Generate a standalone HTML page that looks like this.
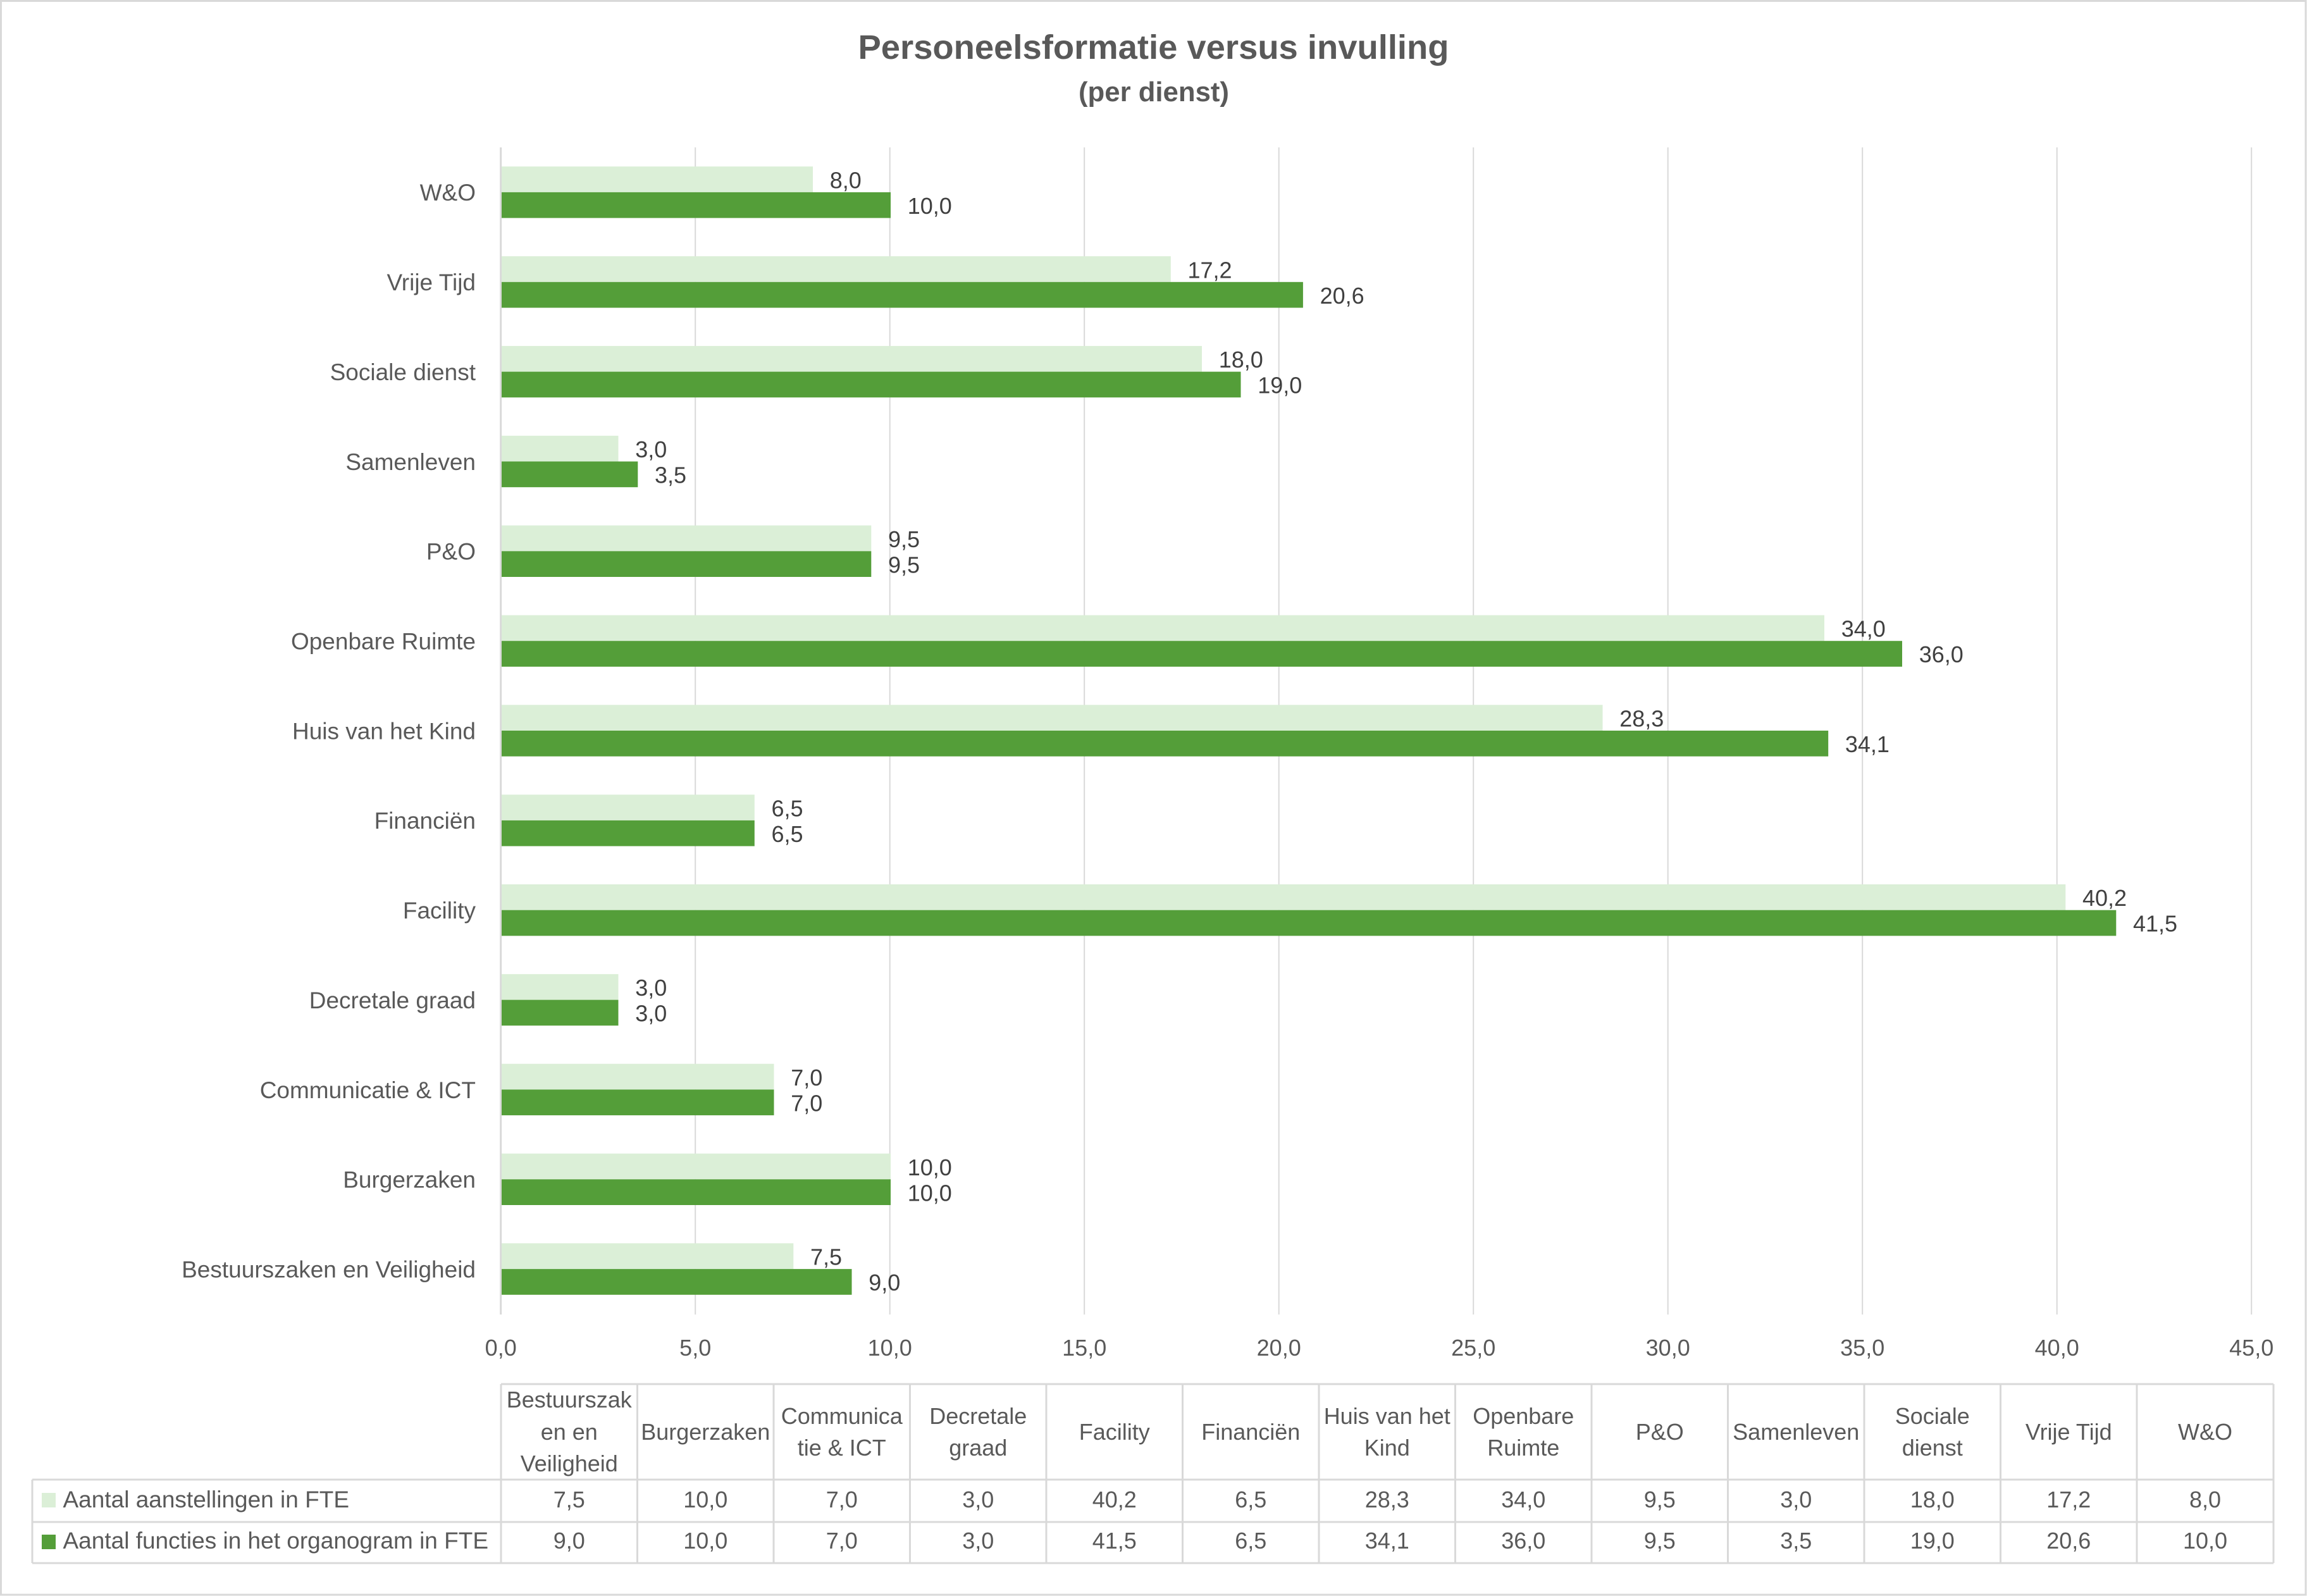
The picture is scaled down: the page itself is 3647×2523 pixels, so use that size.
<!DOCTYPE html>
<html>
<head>
<meta charset="utf-8">
<style>
html,body{margin:0;padding:0;background:#fff;}
svg{display:block;}
text{font-family:"Liberation Sans",Arial,sans-serif;}
</style>
</head>
<body>
<svg xmlns="http://www.w3.org/2000/svg" width="3647" height="2523" viewBox="0 0 3647 2523">
<rect x="0" y="0" width="3647" height="2523" fill="#ffffff"/>
<rect x="1.5" y="1.5" width="3643.5" height="2519.5" fill="none" stroke="#d9d9d9" stroke-width="3"/>

<!-- Title -->
<text x="1823.5" y="93" text-anchor="middle" font-size="54" font-weight="bold" fill="#595959" textLength="934" lengthAdjust="spacingAndGlyphs">Personeelsformatie versus invulling</text>
<text x="1824" y="160" text-anchor="middle" font-size="43.5" font-weight="bold" fill="#595959" textLength="238" lengthAdjust="spacingAndGlyphs">(per dienst)</text>

<!-- Gridlines -->
<g stroke="#d9d9d9" stroke-width="2">
<line x1="1099.2" y1="233" x2="1099.2" y2="2078"/>
<line x1="1406.7" y1="233" x2="1406.7" y2="2078"/>
<line x1="1714.2" y1="233" x2="1714.2" y2="2078"/>
<line x1="2021.7" y1="233" x2="2021.7" y2="2078"/>
<line x1="2329.2" y1="233" x2="2329.2" y2="2078"/>
<line x1="2636.7" y1="233" x2="2636.7" y2="2078"/>
<line x1="2944.2" y1="233" x2="2944.2" y2="2078"/>
<line x1="3251.7" y1="233" x2="3251.7" y2="2078"/>
<line x1="3559.2" y1="233" x2="3559.2" y2="2078"/>
</g>
<line x1="791.7" y1="233" x2="791.7" y2="2078" stroke="#d9d9d9" stroke-width="3"/>

<!-- Bars -->
<g>
<rect x="793" y="263.2" width="492.0" height="40.7" fill="#dbefd7"/>
<rect x="793" y="303.9" width="615.0" height="40.7" fill="#549e39"/>
<rect x="793" y="405.1" width="1057.8" height="40.7" fill="#dbefd7"/>
<rect x="793" y="445.8" width="1266.9" height="40.7" fill="#549e39"/>
<rect x="793" y="546.9" width="1107.0" height="40.7" fill="#dbefd7"/>
<rect x="793" y="587.6" width="1168.5" height="40.7" fill="#549e39"/>
<rect x="793" y="688.8" width="184.5" height="40.7" fill="#dbefd7"/>
<rect x="793" y="729.5" width="215.3" height="40.7" fill="#549e39"/>
<rect x="793" y="830.6" width="584.3" height="40.7" fill="#dbefd7"/>
<rect x="793" y="871.3" width="584.3" height="40.7" fill="#549e39"/>
<rect x="793" y="972.5" width="2091.0" height="40.7" fill="#dbefd7"/>
<rect x="793" y="1013.2" width="2214.0" height="40.7" fill="#549e39"/>
<rect x="793" y="1114.3" width="1740.5" height="40.7" fill="#dbefd7"/>
<rect x="793" y="1155.0" width="2097.2" height="40.7" fill="#549e39"/>
<rect x="793" y="1256.2" width="399.8" height="40.7" fill="#dbefd7"/>
<rect x="793" y="1296.9" width="399.8" height="40.7" fill="#549e39"/>
<rect x="793" y="1398.0" width="2472.3" height="40.7" fill="#dbefd7"/>
<rect x="793" y="1438.7" width="2552.3" height="40.7" fill="#549e39"/>
<rect x="793" y="1539.9" width="184.5" height="40.7" fill="#dbefd7"/>
<rect x="793" y="1580.6" width="184.5" height="40.7" fill="#549e39"/>
<rect x="793" y="1681.7" width="430.5" height="40.7" fill="#dbefd7"/>
<rect x="793" y="1722.4" width="430.5" height="40.7" fill="#549e39"/>
<rect x="793" y="1823.6" width="615.0" height="40.7" fill="#dbefd7"/>
<rect x="793" y="1864.3" width="615.0" height="40.7" fill="#549e39"/>
<rect x="793" y="1965.4" width="461.3" height="40.7" fill="#dbefd7"/>
<rect x="793" y="2006.1" width="553.5" height="40.7" fill="#549e39"/>
</g>

<!-- Data labels -->
<g font-size="36" fill="#404040">
<text x="1311.7" y="297.4">8,0</text>
<text x="1434.7" y="337.9">10,0</text>
<text x="1877.5" y="439.3">17,2</text>
<text x="2086.6" y="479.8">20,6</text>
<text x="1926.7" y="581.1">18,0</text>
<text x="1988.2" y="621.6">19,0</text>
<text x="1004.2" y="723.0">3,0</text>
<text x="1035.0" y="763.5">3,5</text>
<text x="1404.0" y="864.8">9,5</text>
<text x="1404.0" y="905.3">9,5</text>
<text x="2910.7" y="1006.7">34,0</text>
<text x="3033.7" y="1047.2">36,0</text>
<text x="2560.2" y="1148.5">28,3</text>
<text x="2916.9" y="1189.0">34,1</text>
<text x="1219.5" y="1290.4">6,5</text>
<text x="1219.5" y="1330.9">6,5</text>
<text x="3292.0" y="1432.2">40,2</text>
<text x="3372.0" y="1472.7">41,5</text>
<text x="1004.2" y="1574.1">3,0</text>
<text x="1004.2" y="1614.6">3,0</text>
<text x="1250.2" y="1715.9">7,0</text>
<text x="1250.2" y="1756.4">7,0</text>
<text x="1434.7" y="1857.8">10,0</text>
<text x="1434.7" y="1898.3">10,0</text>
<text x="1281.0" y="1999.6">7,5</text>
<text x="1373.2" y="2040.1">9,0</text>
</g>

<!-- Category labels -->
<g font-size="37" fill="#595959" text-anchor="end">
<text x="752" y="317">W&amp;O</text>
<text x="752" y="459">Vrije Tijd</text>
<text x="752" y="601">Sociale dienst</text>
<text x="752" y="743">Samenleven</text>
<text x="752" y="884.5">P&amp;O</text>
<text x="752" y="1026.5">Openbare Ruimte</text>
<text x="752" y="1168.5">Huis van het Kind</text>
<text x="752" y="1310">Financiën</text>
<text x="752" y="1452">Facility</text>
<text x="752" y="1594">Decretale graad</text>
<text x="752" y="1736">Communicatie &amp; ICT</text>
<text x="752" y="1877.5">Burgerzaken</text>
<text x="752" y="2019.5">Bestuurszaken en Veiligheid</text>
</g>

<!-- X axis tick labels -->
<g font-size="36" fill="#595959" text-anchor="middle">
<text x="791.7" y="2143">0,0</text>
<text x="1099.2" y="2143">5,0</text>
<text x="1406.7" y="2143">10,0</text>
<text x="1714.2" y="2143">15,0</text>
<text x="2021.7" y="2143">20,0</text>
<text x="2329.2" y="2143">25,0</text>
<text x="2636.7" y="2143">30,0</text>
<text x="2944.2" y="2143">35,0</text>
<text x="3251.7" y="2143">40,0</text>
<text x="3559.2" y="2143">45,0</text>
</g>

<!-- Data table lines -->
<g stroke="#d9d9d9" stroke-width="3" fill="none">
<line x1="792" y1="2188" x2="3594" y2="2188"/>
<line x1="51" y1="2339" x2="3594" y2="2339"/>
<line x1="51" y1="2406" x2="3594" y2="2406"/>
<line x1="51" y1="2471" x2="3594" y2="2471"/>
<line x1="51" y1="2339" x2="51" y2="2471"/>
<line x1="792" y1="2188" x2="792" y2="2471"/>
<line x1="1007.5" y1="2188" x2="1007.5" y2="2471"/>
<line x1="1223" y1="2188" x2="1223" y2="2471"/>
<line x1="1438.5" y1="2188" x2="1438.5" y2="2471"/>
<line x1="1654" y1="2188" x2="1654" y2="2471"/>
<line x1="1869.5" y1="2188" x2="1869.5" y2="2471"/>
<line x1="2085" y1="2188" x2="2085" y2="2471"/>
<line x1="2300.5" y1="2188" x2="2300.5" y2="2471"/>
<line x1="2516" y1="2188" x2="2516" y2="2471"/>
<line x1="2731.5" y1="2188" x2="2731.5" y2="2471"/>
<line x1="2947" y1="2188" x2="2947" y2="2471"/>
<line x1="3162.5" y1="2188" x2="3162.5" y2="2471"/>
<line x1="3378" y1="2188" x2="3378" y2="2471"/>
<line x1="3594" y1="2188" x2="3594" y2="2471"/>
</g>

<!-- Table header -->
<g font-size="36" fill="#595959" text-anchor="middle">
<text x="899.75" y="2225">Bestuurszak</text>
<text x="899.75" y="2276">en en</text>
<text x="899.75" y="2326">Veiligheid</text>
<text x="1115.25" y="2276">Burgerzaken</text>
<text x="1330.75" y="2251">Communica</text>
<text x="1330.75" y="2301">tie &amp; ICT</text>
<text x="1546.25" y="2251">Decretale</text>
<text x="1546.25" y="2301">graad</text>
<text x="1761.75" y="2276">Facility</text>
<text x="1977.25" y="2276">Financiën</text>
<text x="2192.75" y="2251">Huis van het</text>
<text x="2192.75" y="2301">Kind</text>
<text x="2408.25" y="2251">Openbare</text>
<text x="2408.25" y="2301">Ruimte</text>
<text x="2623.75" y="2276">P&amp;O</text>
<text x="2839.25" y="2276">Samenleven</text>
<text x="3054.75" y="2251">Sociale</text>
<text x="3054.75" y="2301">dienst</text>
<text x="3270.25" y="2276">Vrije Tijd</text>
<text x="3486" y="2276">W&amp;O</text>
</g>

<!-- Table values -->
<g font-size="36" fill="#595959" text-anchor="middle">
<text x="899.75" y="2383">7,5</text>
<text x="1115.25" y="2383">10,0</text>
<text x="1330.75" y="2383">7,0</text>
<text x="1546.25" y="2383">3,0</text>
<text x="1761.75" y="2383">40,2</text>
<text x="1977.25" y="2383">6,5</text>
<text x="2192.75" y="2383">28,3</text>
<text x="2408.25" y="2383">34,0</text>
<text x="2623.75" y="2383">9,5</text>
<text x="2839.25" y="2383">3,0</text>
<text x="3054.75" y="2383">18,0</text>
<text x="3270.25" y="2383">17,2</text>
<text x="3486" y="2383">8,0</text>

<text x="899.75" y="2448">9,0</text>
<text x="1115.25" y="2448">10,0</text>
<text x="1330.75" y="2448">7,0</text>
<text x="1546.25" y="2448">3,0</text>
<text x="1761.75" y="2448">41,5</text>
<text x="1977.25" y="2448">6,5</text>
<text x="2192.75" y="2448">34,1</text>
<text x="2408.25" y="2448">36,0</text>
<text x="2623.75" y="2448">9,5</text>
<text x="2839.25" y="2448">3,5</text>
<text x="3054.75" y="2448">19,0</text>
<text x="3270.25" y="2448">20,6</text>
<text x="3486" y="2448">10,0</text>
</g>

<!-- Legend keys -->
<rect x="66" y="2360" width="22" height="23" fill="#dbefd7"/>
<rect x="66" y="2426" width="22" height="23" fill="#549e39"/>
<g font-size="37" fill="#595959">
<text x="99.5" y="2383">Aantal aanstellingen in FTE</text>
<text x="99.5" y="2448">Aantal functies in het organogram in FTE</text>
</g>
</svg>
</body>
</html>
